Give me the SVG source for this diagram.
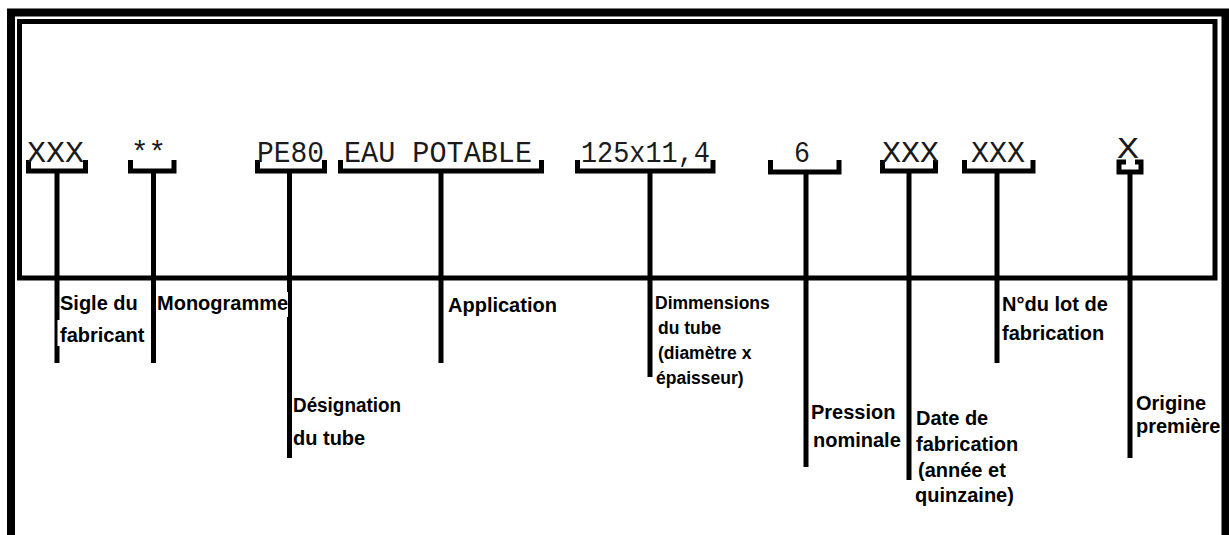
<svg xmlns="http://www.w3.org/2000/svg" width="1229" height="535" viewBox="0 0 1229 535">
<defs>
<style>
.code{font-family:"Liberation Mono","DejaVu Sans Mono",monospace;font-size:30px;fill:#1a1a1a;}
.lbl{font-family:"Liberation Sans",Arial,sans-serif;font-weight:bold;font-size:20px;fill:#000;}
.sm{font-size:17.5px;}
.br{fill:none;stroke:#000;stroke-width:5;stroke-linejoin:miter;}
.stem{stroke:#000;stroke-width:5;}
.bg{fill:#fff;}
</style>
</defs>
<rect width="1229" height="535" fill="#fff"/>
<g id="inner-frame">
<rect x="19.5" y="21.5" width="1195.5" height="256.5" fill="none" stroke="#000" stroke-width="5"/>
</g>
<g id="connectors">
<path class="br" d="M28.5 160 V171 H85.5 V160"/>
<line class="stem" x1="57" y1="171" x2="57" y2="363"/>
<path class="br" d="M130.5 160 V171 H174 V160"/>
<line class="stem" x1="153.5" y1="171" x2="153.5" y2="363"/>
<path class="br" d="M257.5 160 V171 H324.5 V160"/>
<line class="stem" x1="289.5" y1="171" x2="289.5" y2="458"/>
<path class="br" d="M340.5 160 V171 H541.5 V160"/>
<line class="stem" x1="441" y1="171" x2="441" y2="363"/>
<path class="br" d="M577.5 160 V171 H713 V160"/>
<line class="stem" x1="650" y1="171" x2="650" y2="377"/>
<path class="br" d="M770.5 160 V172 H839 V160"/>
<line class="stem" x1="806" y1="172" x2="806" y2="467"/>
<path class="br" d="M882.5 160 V171 H935.5 V160"/>
<line class="stem" x1="909" y1="171" x2="909" y2="480"/>
<path class="br" d="M964.5 160 V171 H1033 V160"/>
<line class="stem" x1="997" y1="171" x2="997" y2="363"/>
<path class="br" d="M1126 162 H1119 V172 H1141 V162 H1135" stroke-width="4"/>
<line class="stem" x1="1130" y1="172" x2="1130" y2="458"/>
</g>
<g id="sigle">
<text class="code" x="27" y="162" textLength="57" lengthAdjust="spacingAndGlyphs">XXX</text>
<rect class="bg" x="57.5" y="320" width="84" height="26"/>
<text class="lbl" x="60" y="310">Sigle du</text>
<text class="lbl" x="60" y="342">fabricant</text>
</g>
<g id="monogramme">
<text class="code" x="131" y="162" textLength="35" lengthAdjust="spacingAndGlyphs">**</text>
<rect class="bg" x="156" y="292" width="132" height="25"/>
<text class="lbl" x="157" y="310">Monogramme</text>
</g>
<g id="designation">
<text class="code" x="257" y="162" textLength="67" lengthAdjust="spacingAndGlyphs">PE80</text>
<text class="lbl" x="293" y="412" textLength="108" lengthAdjust="spacingAndGlyphs">Désignation</text>
<text class="lbl" x="293" y="445">du tube</text>
</g>
<g id="application">
<text class="code" x="344" y="162" textLength="188" lengthAdjust="spacingAndGlyphs">EAU POTABLE</text>
<text class="lbl" x="448" y="312">Application</text>
</g>
<g id="dimensions">
<text class="code" x="581" y="162" textLength="129" lengthAdjust="spacingAndGlyphs">125x11,4</text>
<text class="lbl sm" x="655" y="309">Dimmensions</text>
<text class="lbl sm" x="658" y="334">du tube</text>
<text class="lbl sm" x="658" y="359">(diamètre x</text>
<text class="lbl sm" x="656" y="384">épaisseur)</text>
</g>
<g id="pression">
<text class="code" x="794" y="162" textLength="16" lengthAdjust="spacingAndGlyphs">6</text>
<text class="lbl" x="811" y="419">Pression</text>
<text class="lbl" x="813" y="447">nominale</text>
</g>
<g id="date">
<text class="code" x="882" y="162" textLength="57" lengthAdjust="spacingAndGlyphs">XXX</text>
<text class="lbl" x="916" y="425">Date de</text>
<text class="lbl" x="916" y="451">fabrication</text>
<text class="lbl" x="918" y="477">(année et</text>
<text class="lbl" x="915" y="502">quinzaine)</text>
</g>
<g id="lot">
<text class="code" x="971" y="162" textLength="54" lengthAdjust="spacingAndGlyphs">XXX</text>
<text class="lbl" x="1002" y="311">N°du lot de</text>
<text class="lbl" x="1002" y="340">fabrication</text>
</g>
<g id="origine">
<text class="code" x="1117" y="158" textLength="22" lengthAdjust="spacingAndGlyphs">X</text>
<text class="lbl" x="1136" y="410">Origine</text>
<text class="lbl" x="1136" y="433">première</text>
</g>
<g id="outer-frame">
<path d="M11 535 V12.5 H1225.5 V535" fill="none" stroke="#000" stroke-width="8"/>
</g>
</svg>
